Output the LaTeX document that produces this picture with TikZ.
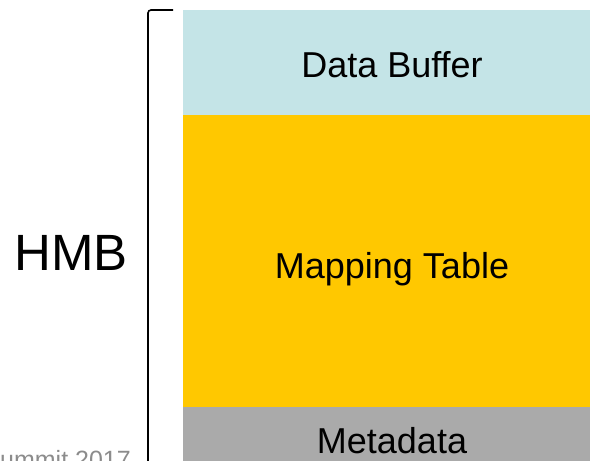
\documentclass[tikz,border=0pt]{standalone}
\usepackage{fontspec}
\setmainfont{Liberation Sans}
\begin{document}
\begin{tikzpicture}[x=1pt,y=-1pt,
  block/.style={draw=none,inner sep=0pt,outer sep=0pt},
  label36/.style={font=\fontsize{36}{40}\selectfont,text=black,inner sep=0pt,anchor=base},
  brace/.style={line width=1.6pt,draw=black,rounded corners=3pt},
  footer/.style={font=\fontsize{25}{28}\selectfont,text=black!45,inner sep=0pt,anchor=base east}]
  \useasboundingbox (0,0) rectangle (590,461);
  \clip (0,0) rectangle (590,461);
  % memory blocks
  \fill[fill={rgb,255:red,196;green,228;blue,231}] (183,10) rectangle (590,115);
  \fill[fill={rgb,255:red,255;green,200;blue,0}] (183,115) rectangle (590,407);
  \fill[fill={rgb,255:red,170;green,170;blue,170}] (183,407) rectangle (600,470);
  \node[label36] (buf) at (392,77) {Data Buffer};
  \node[label36] (map) at (392,278) {Mapping Table};
  \node[label36] (meta) at (392,453) {Metadata};
  % bracket spanning the host memory buffer
  \coordinate (btop) at (173,10);
  \coordinate (bcorner) at (148,10);
  \coordinate (bbot) at (148,470);
  \draw[brace] (btop) -- (bcorner) -- (bbot);
  \node[font=\fontsize{51}{56}\selectfont,inner sep=0pt,anchor=base] (hmb) at (71,270) {HMB};
  \node[footer] (foot) at (131,468) {ummit 2017};
\end{tikzpicture}
\end{document}
